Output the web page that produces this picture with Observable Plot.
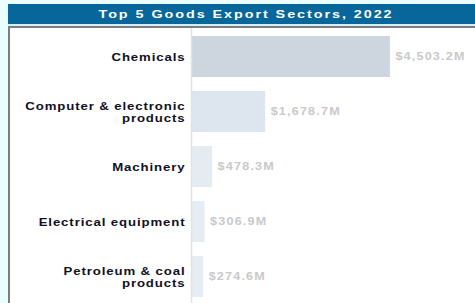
<!DOCTYPE html>
<html>
<head>
<meta charset="utf-8">
<script src="https://cdn.jsdelivr.net/npm/d3@7"></script>
<script src="https://cdn.jsdelivr.net/npm/@observablehq/plot@0.6"></script>
<style>
  html, body { margin: 0; padding: 0; background: #eafeff; width: 475px; height: 303px; overflow: hidden; }
  #wrap { position: absolute; left: 8px; top: 4px; width: 467px; }
  #title { height: 20px; background: #07679b; color: #fff; font: bold 11.5px "Liberation Sans", Arial, sans-serif;
           text-align: center; line-height: 20px; padding-left: 9px; }
  #title span { display: inline-block; letter-spacing: 1.55px; transform: scaleX(1.25); }
  #gap { height: 2px; background: #d4eef3; }
  #panel { border-top: 2px solid #7d7d7d; border-left: 2px solid #7d7d7d; background: #fff; height: 300px; }
  #panel svg { display: block; }
</style>
</head>
<body>
<div id="wrap">
  <div id="title"><span>Top 5 Goods Export Sectors, 2022</span></div>
  <div id="gap"></div>
  <div id="panel"></div>
</div>
<script>
const sectors = ["Chemicals", "Computer & electronic\nproducts", "Machinery", "Electrical equipment", "Petroleum & coal\nproducts"];
const values = [4503.2, 1678.7, 478.3, 306.9, 274.6];
const valueLabels = ["$4,503.2M", "$1,678.7M", "$478.3M", "$306.9M", "$274.6M"];
const barColors = ["#cdd5df", "#dde6ee", "#e5ecf1", "#e6edf2", "#e6edf2"];

const data = sectors.map((s, i) => ({sector: s, value: values[i], label: valueLabels[i], color: barColors[i]}));

const chart = Plot.plot({
  width: 465,
  height: 277,
  marginLeft: 181,
  marginRight: 19,
  marginTop: 0,
  marginBottom: 0,
  style: {background: "#fff", fontFamily: "'Liberation Sans', Arial, sans-serif"},
  x: {domain: [0, 6000], axis: null},
  y: {domain: sectors, axis: null, paddingInner: 0.26, paddingOuter: 0.13},
  marks: [
    Plot.barX(data, {x: "value", y: "sector", fill: "color"}),
    Plot.ruleX([0], {stroke: "#e2e2e2", strokeWidth: 1.5}),
    Plot.text(data, {x: 0, y: "sector", text: "sector", textAnchor: "end", dx: -6, fill: "#101024",
      fontSize: 11, fontWeight: "bold", lineHeight: 1.08, className: "cat"}),
    Plot.text(data, {x: "value", y: "sector", text: "label", textAnchor: "start", dx: 5, fill: "#c9c9c9",
      fontSize: 10.5, fontWeight: "bold", className: "val"})
  ]
});
function stretch(sel, k, spacing) {
  d3.select(chart).selectAll(sel).each(function() {
    const t = d3.select(this);
    t.style("letter-spacing", spacing + "px");
    const tr = t.attr("transform");
    if (tr) {
      t.attr("transform", tr + ` scale(${k},1)`);
    } else {
      const x = +t.attr("x") || 0, y = +t.attr("y") || 0;
      t.attr("x", null).attr("y", null).attr("transform", `translate(${x},${y}) scale(${k},1)`);
    }
  });
}
stretch("g.cat text", 1.2, 0.75);
stretch("g.val text", 1.2, 1.0);
document.getElementById("panel").appendChild(chart);
</script>
</body>
</html>
